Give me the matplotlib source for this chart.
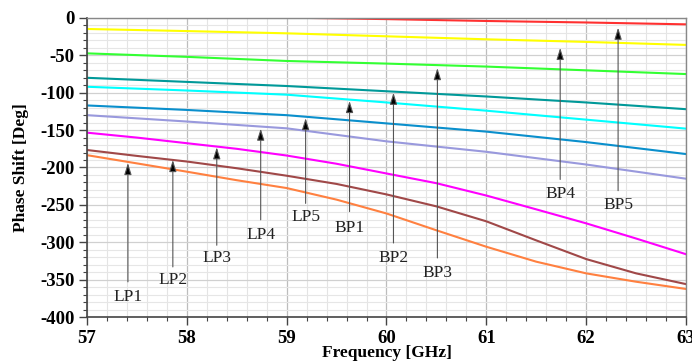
import numpy as np
import matplotlib.pyplot as plt
from matplotlib.ticker import MultipleLocator

plt.rcParams['font.family'] = ['Liberation Serif', 'DejaVu Serif']
plt.rcParams['axes.unicode_minus'] = False

# Phase shift (deg) per switching state, sampled every 1 GHz
freq = [57, 58, 59, 60, 61, 62, 63]
red = [6.0, 3.0, 0.5, -1.5, -4.0, -6.0, -8.5]
yellow = [-14.7, -17.5, -20.5, -24.5, -28.5, -32.0, -36.0]
green = [-47.3, -52.0, -57.5, -61.0, -65.0, -70.0, -75.0]
teal = [-80.0, -85.5, -91.0, -98.0, -105.0, -113.0, -122.0]
cyan = [-92.0, -97.0, -102.6, -113.0, -124.0, -136.0, -148.0]
blue = [-117.0, -123.0, -130.0, -141.0, -152.0, -166.0, -182.0]
lavender = [-130.0, -138.5, -147.6, -165.0, -179.0, -196.0, -215.0]

# the lower three bend more, so they get half-GHz samples
freq_fine = [57, 57.5, 58, 58.5, 59, 59.5, 60, 60.5, 61, 61.5, 62, 62.5, 63]
magenta = [-153.4, -160.0, -167.5, -175.0, -184.0, -195.0, -208.0,
           -221.0, -237.5, -256.0, -274.7, -295.0, -316.0]
brown = [-176.6, -184.5, -192.0, -201.0, -211.0, -222.0, -236.0,
         -252.0, -272.0, -297.5, -322.5, -341.6, -356.0]
orange = [-183.5, -194.5, -205.6, -217.0, -227.5, -243.0, -261.5,
          -284.0, -306.0, -326.0, -341.6, -352.8, -362.5]

# annotations: label, x, arrow tail y, arrow head y, label y
marks = ['LP1', 'LP2', 'LP3', 'LP4', 'LP5', 'BP1', 'BP2', 'BP3', 'BP4', 'BP5']
mark_x = [57.41, 57.86, 58.30, 58.74, 59.19, 59.63, 60.07, 60.51, 61.74, 62.32]
tail_y = [-353, -333, -304, -270, -248, -259, -301, -321, -216, -231]
head_y = [-194, -190, -173, -148, -134, -111, -100, -67, -40, -13]
label_y = [-373, -350, -321, -290, -266, -281, -321, -341, -235, -250]

fig = plt.figure(figsize=(6.92, 3.62), dpi=100)
ax = fig.add_axes([0.1257, 0.1243, 0.8656, 0.826])

lw = 1.5
ax.plot(freq, red, color='#ff3030', lw=lw)
ax.plot(freq, yellow, color='#ffff00', lw=lw)
ax.plot(freq, green, color='#33ff33', lw=lw)
ax.plot(freq, teal, color='#009999', lw=lw)
ax.plot(freq, cyan, color='#00ffff', lw=lw)
ax.plot(freq, blue, color='#0a8fcc', lw=lw)
ax.plot(freq, lavender, color='#9999dd', lw=lw)
ax.plot(freq_fine, magenta, color='#ff00ff', lw=lw)
ax.plot(freq_fine, brown, color='#a04848', lw=lw)
ax.plot(freq_fine, orange, color='#ff8040', lw=lw)

for name, x, y0, y1, ly in zip(marks, mark_x, tail_y, head_y, label_y):
    ax.annotate('', xy=(x, y1), xytext=(x, y0),
                arrowprops=dict(arrowstyle='-|>,head_width=0.22,head_length=0.7',
                                ec='#555555', fc='black', lw=0.8,
                                shrinkA=0, shrinkB=0))
    ax.text(x, ly, name, ha='center', va='center', fontsize=12.5, color='#222222')

ax.set_xlim(57, 63)
ax.set_ylim(-400, 0)
ax.xaxis.set_major_locator(MultipleLocator(1))
ax.xaxis.set_minor_locator(MultipleLocator(0.2))
ax.yaxis.set_major_locator(MultipleLocator(50))
ax.yaxis.set_minor_locator(MultipleLocator(10))

ax.grid(which='major', axis='x', color='#bdbdbd', lw=0.9)
ax.grid(which='minor', axis='x', color='#e4e4e4', lw=0.8)
ax.grid(which='major', axis='y', color='#d0d0d0', lw=0.9)
ax.grid(which='minor', axis='y', color='#e6e6e6', lw=0.8)
ax.set_axisbelow(True)

ax.tick_params(which='major', length=6, width=1, color='#444444',
               labelsize=13.5, pad=3)
ax.tick_params(which='minor', length=3, width=0.8, color='#444444')
for lbl in ax.get_xticklabels() + ax.get_yticklabels():
    lbl.set_fontweight('bold')

for side in ['left', 'bottom']:
    ax.spines[side].set_color('#444444')
    ax.spines[side].set_linewidth(1.2)
for side in ['top', 'right']:
    ax.spines[side].set_color('#888888')
    ax.spines[side].set_linewidth(1.0)

ax.set_xlabel('Frequency [GHz]', fontsize=12.5, fontweight='bold', labelpad=-1)
ax.set_ylabel('Phase Shift [Deg]', fontsize=12.5, fontweight='bold', labelpad=8)

fig.savefig('out.png', dpi=100)
